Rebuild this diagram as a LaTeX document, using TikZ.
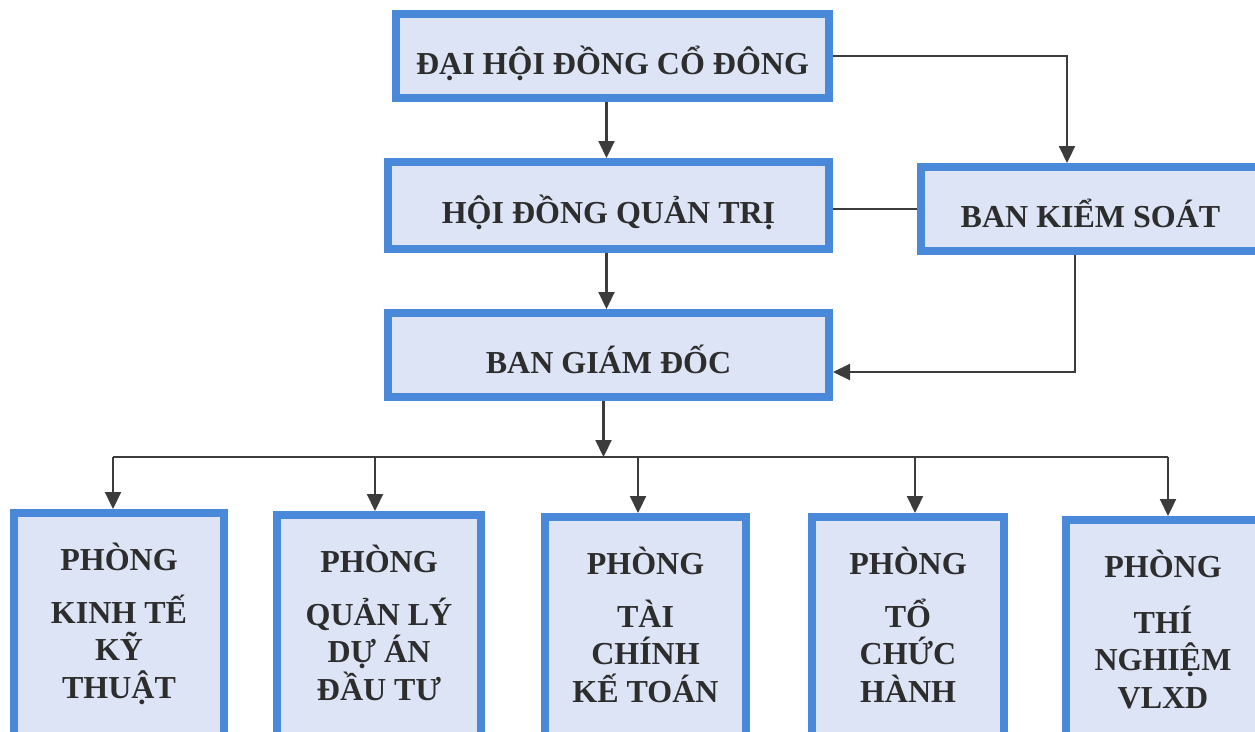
\documentclass[tikz,border=0pt]{standalone}
\usepackage{fontspec}
\setmainfont{Liberation Serif}
\usetikzlibrary{arrows.meta}
\definecolor{bbord}{RGB}{74,136,218}
\definecolor{bfill}{RGB}{221,228,246}
\definecolor{tcol}{RGB}{45,45,45}
\definecolor{lcol}{RGB}{60,60,60}
\begin{document}
\begin{tikzpicture}[x=1pt,y=-1pt,
  box/.style={draw=bbord, fill=bfill, line width=8pt, inner sep=0pt, text=tcol,
    font=\bfseries\fontsize{32}{37.5}\selectfont},
  topbox/.style={box, text height=40pt, text depth=4pt},
  ptext/.style={inner sep=0pt, text=tcol, align=center, anchor=north,
    font=\bfseries\fontsize{32}{37.5}\selectfont},
  link/.style={draw=lcol, line width=2.2pt},
  arr/.style={link, -{Triangle[width=16pt,length=17pt]}}]
\useasboundingbox (0,0) rectangle (1255,731);
\clip (0,0) rectangle (1255,731);
\fill[white] (0,0) rectangle (1255,731);

% upper boxes
\node[topbox, minimum width=433pt, minimum height=84pt] (dh) at (612.5,56) {ĐẠI HỘI ĐỒNG CỔ ĐÔNG};
\node[topbox, minimum width=441pt, minimum height=87pt] (hq) at (608.5,205.5) {HỘI ĐỒNG QUẢN TRỊ};
\node[topbox, minimum width=339pt, minimum height=84pt] (bk) at (1090.5,209) {BAN KIỂM SOÁT};
\node[topbox, minimum width=441pt, minimum height=84pt] (bg) at (608.5,355) {BAN GIÁM ĐỐC};

% department boxes
\node[box, minimum width=210pt, minimum height=243pt] (p1) at (119,634.5) {};
\node[box, minimum width=204pt, minimum height=241pt] (p2) at (379,635.5) {};
\node[box, minimum width=201pt, minimum height=239pt] (p3) at (645.5,636.5) {};
\node[box, minimum width=192pt, minimum height=239pt] (p4) at (908,636.5) {};
\node[box, minimum width=194pt, minimum height=236pt] (p5) at (1163,638) {};

\node[ptext] (t1) at ([yshift=-34pt]p1.north) {PHÒNG\\[15pt]KINH TẾ\\KỸ\\THUẬT};
\node[ptext] (t2) at ([yshift=-34pt]p2.north) {PHÒNG\\[15pt]QUẢN LÝ\\DỰ ÁN\\ĐẦU TƯ};
\node[ptext] (t3) at ([yshift=-34pt]p3.north) {PHÒNG\\[15pt]TÀI\\CHÍNH\\KẾ TOÁN};
\node[ptext] (t4) at ([yshift=-34pt]p4.north) {PHÒNG\\[15pt]TỔ\\CHỨC\\HÀNH};
\node[ptext] (t5) at ([yshift=-34pt]p5.north) {PHÒNG\\[18pt]THÍ\\NGHIỆM\\VLXD};

% connectors
\coordinate (x0) at (606.5,0);
\draw[arr] (dh.south -| x0) -- (hq.north -| x0);
\draw[arr] (dh.east) -| ([xshift=-23.5pt]bk.north);
\draw[link] (hq.east |- bk.west) -- (bk.west);
\draw[arr] (hq.south -| x0) -- (bg.north -| x0);
\draw[arr] ([xshift=-15.5pt]bk.south) |- ([yshift=-17pt]bg.east);

\coordinate (bus) at (0,457);
\coordinate (d1) at (113,0);
\coordinate (d2) at (375,0);
\coordinate (d3) at (638,0);
\coordinate (d4) at (915,0);
\coordinate (d5) at (1168,0);
\draw[arr] ([xshift=-5pt]bg.south) -- ([xshift=-5pt]bg.south |- bus);
\draw[link] (bus -| d1) -- (bus -| d5);
\draw[arr] (bus -| d1) -- (p1.north -| d1);
\draw[arr] (bus -| d2) -- (p2.north -| d2);
\draw[arr] (bus -| d3) -- (p3.north -| d3);
\draw[arr] (bus -| d4) -- (p4.north -| d4);
\draw[arr] (bus -| d5) -- (p5.north -| d5);
\end{tikzpicture}
\end{document}
